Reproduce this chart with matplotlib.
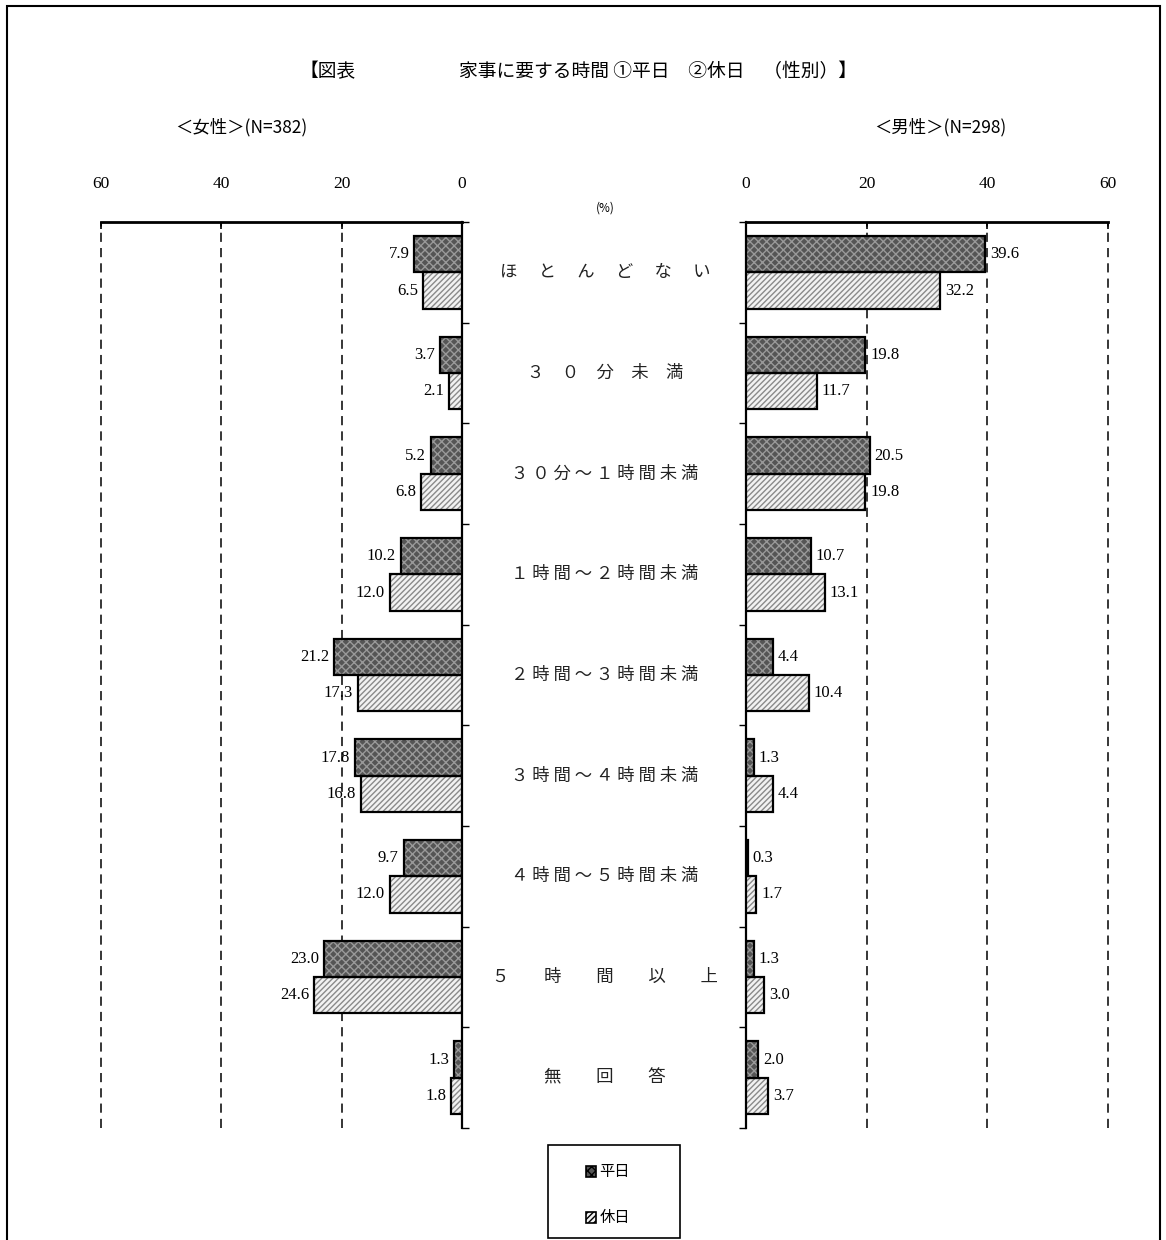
import numpy as np
import matplotlib
matplotlib.use('Agg')
import matplotlib.pyplot as plt
import matplotlib.patches as patches
from matplotlib.transforms import blended_transform_factory

plt.rcParams['font.family'] = ['Noto Sans CJK JP', 'DejaVu Sans']

categories = ['ほ　 と　 ん　 ど　 な　 い', '３　０　分　未　満', '３ ０ 分 ～ １ 時 間 未 満',
              '１ 時 間 ～ ２ 時 間 未 満', '２ 時 間 ～ ３ 時 間 未 満', '３ 時 間 ～ ４ 時 間 未 満',
              '４ 時 間 ～ ５ 時 間 未 満', '５　　時　　間　　以　　上', '無　　回　　答']
female_weekday = [7.9, 3.7, 5.2, 10.2, 21.2, 17.8, 9.7, 23.0, 1.3]
female_holiday = [6.5, 2.1, 6.8, 12.0, 17.3, 16.8, 12.0, 24.6, 1.8]
male_weekday = [39.6, 19.8, 20.5, 10.7, 4.4, 1.3, 0.3, 1.3, 2.0]
male_holiday = [32.2, 11.7, 19.8, 13.1, 10.4, 4.4, 1.7, 3.0, 3.7]
xticks = [0, 20, 40, 60]

num_font = 'Liberation Serif'
y = np.arange(len(categories))
bh = 0.36

fig = plt.figure(figsize=(11.66, 12.40), dpi=100)
ax_l = fig.add_axes([0.0866, 0.0903, 0.3096, 0.7306])
ax_r = fig.add_axes([0.6398, 0.0903, 0.3105, 0.7306])


def draw_bars(ax, vals, offset, dark):
    if dark:
        fc, hc, hatch = '#555555', '#999999', 'xxxx'
    else:
        fc, hc, hatch = '#f2f2f2', '#8a8a8a', '//////'
    ax.barh(y + offset, vals, height=bh, color=fc, edgecolor=hc, hatch=hatch,
            linewidth=0, zorder=3)
    ax.barh(y + offset, vals, height=bh, fill=False, edgecolor='black',
            linewidth=1.6, zorder=4)


for ax, wk, hol, side in [(ax_l, female_weekday, female_holiday, 'left'),
                          (ax_r, male_weekday, male_holiday, 'right')]:
    draw_bars(ax, wk, -bh / 2, True)
    draw_bars(ax, hol, bh / 2, False)
    ax.set_ylim(len(categories) - 0.5, -0.5)
    ax.set_xlim(0, 60)
    for g in [20, 40, 60]:
        ax.axvline(g, color='black', linestyle=(0, (6, 4)), linewidth=1.1,
                   zorder=1, clip_on=False)
    ax.xaxis.tick_top()
    ax.set_xticks(xticks)
    ax.set_xticklabels([str(t) for t in xticks], fontfamily=num_font, fontsize=12.5)
    ax.tick_params(axis='x', direction='in', length=5, pad=22, width=1.2)
    ax.set_yticks(np.arange(-0.5, len(categories), 1.0))
    ax.set_yticklabels([])
    ax.tick_params(axis='y', direction='out', length=5, width=1.0)
    ax.spines['bottom'].set_visible(False)
    ax.spines['top'].set_linewidth(2.0)
    for i in range(len(categories)):
        for v, off in [(wk[i], -bh / 2), (hol[i], bh / 2)]:
            ax.text(v + 0.8, i + off, f'{v:.1f}', ha='right' if side == 'left' else 'left',
                    va='center', fontfamily=num_font, fontsize=12)

ax_l.invert_xaxis()
ax_l.spines['left'].set_visible(False)
ax_l.spines['right'].set_linewidth(1.6)
ax_l.yaxis.tick_right()
ax_r.spines['right'].set_visible(False)
ax_r.spines['left'].set_linewidth(1.6)
ax_r.yaxis.tick_left()

tr = blended_transform_factory(fig.transFigure, ax_l.transData)
for i, c in enumerate(categories):
    fig.text(0.519, i, c, transform=tr, ha='center', va='center', fontsize=12.5,
             color='#222222')

fig.text(0.519, 0.832, '(%)', ha='center', va='center', fontsize=8.5)
fig.text(0.257, 0.942, '【図表', ha='left', va='center', fontsize=13.5)
fig.text(0.394, 0.942, '家事に要する時間 ①平日　②休日　（性別）】', ha='left', va='center',
         fontsize=13.5)
fig.text(0.150, 0.897, '＜女性＞(N=382)', ha='left', va='center', fontsize=12.5)
fig.text(0.750, 0.897, '＜男性＞(N=298)', ha='left', va='center', fontsize=12.5)

# legend box
fig.patches.append(patches.Rectangle((0.470, 0.002), 0.113, 0.075, transform=fig.transFigure,
                                     fill=False, edgecolor='black', linewidth=1.2))
for yy, lab, dark in [(0.055, '平日', True), (0.018, '休日', False)]:
    fc, hatch = ('#555555', 'xxxx') if dark else ('#f2f2f2', '//////')
    fig.patches.append(patches.Rectangle((0.503, yy - 0.0045), 0.0085, 0.009,
                                         transform=fig.transFigure, facecolor=fc,
                                         edgecolor='black', linewidth=1.2, hatch=hatch))
    fig.text(0.514, yy, lab, ha='left', va='center', fontsize=11)

# page frame
fig.patches.append(patches.Rectangle((0.006, -0.01), 0.989, 1.005, transform=fig.transFigure,
                                     fill=False, edgecolor='black', linewidth=1.5))

fig.savefig('out.png', dpi=100)
